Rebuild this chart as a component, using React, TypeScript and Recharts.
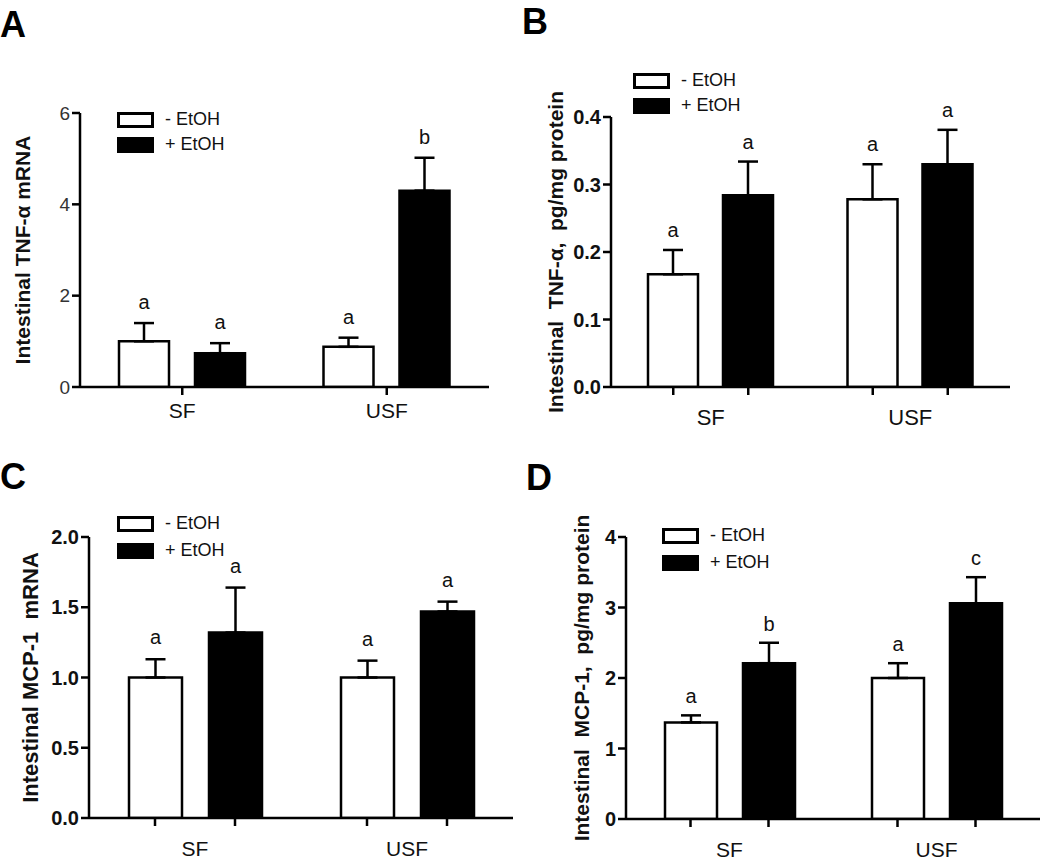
import React from 'react';
import { BarChart, Bar, XAxis, YAxis, ErrorBar, LabelList, Legend } from 'recharts';

const FONT = '"Liberation Sans", Arial, Helvetica, sans-serif';

const groups = ['SF', 'USF'];
const seriesNames = ['- EtOH', '+ EtOH'];

// A: intestinal TNF-α mRNA
const tnfMrnaMinus = [1.0, 0.88];
const tnfMrnaMinusErr = [0.4, 0.2];
const tnfMrnaPlus = [0.74, 4.3];
const tnfMrnaPlusErr = [0.22, 0.72];
const tnfMrnaMinusSig = ['a', 'a'];
const tnfMrnaPlusSig = ['a', 'b'];
const tnfMrnaTicks = [0, 2, 4, 6];

// B: intestinal TNF-α protein
const tnfProtMinus = [0.167, 0.278];
const tnfProtMinusErr = [0.036, 0.052];
const tnfProtPlus = [0.284, 0.33];
const tnfProtPlusErr = [0.05, 0.051];
const tnfProtMinusSig = ['a', 'a'];
const tnfProtPlusSig = ['a', 'a'];
const tnfProtTicks = [0, 0.1, 0.2, 0.3, 0.4];

// C: intestinal MCP-1 mRNA
const mcpMrnaMinus = [1.0, 1.0];
const mcpMrnaMinusErr = [0.13, 0.12];
const mcpMrnaPlus = [1.32, 1.47];
const mcpMrnaPlusErr = [0.32, 0.07];
const mcpMrnaMinusSig = ['a', 'a'];
const mcpMrnaPlusSig = ['a', 'a'];
const mcpMrnaTicks = [0, 0.5, 1.0, 1.5, 2.0];

// D: intestinal MCP-1 protein
const mcpProtMinus = [1.37, 2.0];
const mcpProtMinusErr = [0.1, 0.21];
const mcpProtPlus = [2.21, 3.06];
const mcpProtPlusErr = [0.29, 0.37];
const mcpProtMinusSig = ['a', 'a'];
const mcpProtPlusSig = ['b', 'c'];
const mcpProtTicks = [0, 1, 2, 3, 4];

type Row = {
  group: string;
  minus: number;
  minusErr: [number, number];
  plus: number;
  plusErr: [number, number];
  minusSig: string;
  plusSig: string;
};

const buildRows = (
  minus: number[], minusErr: number[], plus: number[], plusErr: number[],
  minusSig: string[], plusSig: string[]
): Row[] =>
  groups.map((g, i) => ({
    group: g,
    minus: minus[i],
    minusErr: [0, minusErr[i]],
    plus: plus[i],
    plusErr: [0, plusErr[i]],
    minusSig: minusSig[i],
    plusSig: plusSig[i],
  }));

const rowsA = buildRows(tnfMrnaMinus, tnfMrnaMinusErr, tnfMrnaPlus, tnfMrnaPlusErr, tnfMrnaMinusSig, tnfMrnaPlusSig);
const rowsB = buildRows(tnfProtMinus, tnfProtMinusErr, tnfProtPlus, tnfProtPlusErr, tnfProtMinusSig, tnfProtPlusSig);
const rowsC = buildRows(mcpMrnaMinus, mcpMrnaMinusErr, mcpMrnaPlus, mcpMrnaPlusErr, mcpMrnaMinusSig, mcpMrnaPlusSig);
const rowsD = buildRows(mcpProtMinus, mcpProtMinusErr, mcpProtPlus, mcpProtPlusErr, mcpProtMinusSig, mcpProtPlusSig);

// letter sitting above the error bar cap
const SigLabel = (props: any) => {
  const { rows, series, gap } = props;
  const vb = props.viewBox || props;
  const row: Row = rows[props.index];
  if (!row) return null;
  const val = series === 'minus' ? row.minus : row.plus;
  const err = series === 'minus' ? row.minusErr[1] : row.plusErr[1];
  const h = Math.abs(vb.height);
  const errPx = val ? (err / val) * h : 0;
  const top = Math.min(vb.y, vb.y + vb.height);
  return (
    <text
      x={vb.x + vb.width / 2}
      y={top - errPx - gap}
      textAnchor="middle"
      fontSize={20}
      fontFamily={FONT}
      fill="#111"
    >
      {props.value}
    </text>
  );
};

const CatTick = (props: any) => {
  const { x, y, payload, offsets, labelGap, fontSize } = props;
  return (
    <g>
      {offsets.map((d: number, i: number) => (
        <line key={i} x1={x + d} x2={x + d} y1={y} y2={y + 8} stroke="#000" strokeWidth={2.5} />
      ))}
      <text x={x} y={y + labelGap} textAnchor="middle" dominantBaseline="hanging"
        fontSize={fontSize} fontFamily={FONT} fill="#111">
        {payload.value}
      </text>
    </g>
  );
};

const YTitle = (props: any) => {
  const { viewBox, text, cx, fontSize } = props;
  const cy = viewBox.y + viewBox.height / 2;
  return (
    <text
      x={cx}
      y={cy}
      transform={`rotate(-90 ${cx} ${cy})`}
      textAnchor="middle"
      dominantBaseline="central"
      fontSize={fontSize}
      fontWeight={700}
      fontFamily={FONT}
      fill="#111"
      style={{ whiteSpace: 'pre' }}
    >
      {text}
    </text>
  );
};

const LegendBox = (props: any) => {
  const { payload, rowH } = props;
  const items = [...(payload || [])].sort(
    (a: any, b: any) => seriesNames.indexOf(a.value) - seriesNames.indexOf(b.value)
  );
  return (
    <div style={{ fontFamily: FONT, fontSize: 18, color: '#111' }}>
      {items.map((e: any) => (
        <div key={e.value} style={{ display: 'flex', alignItems: 'center', height: rowH }}>
          <span
            style={{
              display: 'inline-block',
              width: 37,
              height: 16,
              boxSizing: 'border-box',
              border: '3px solid #000',
              background: e.value === seriesNames[0] ? '#fff' : '#000',
            }}
          />
          <span style={{ marginLeft: 11, whiteSpace: 'pre' }}>{e.value}</span>
        </div>
      ))}
    </div>
  );
};

type PanelProps = {
  rows: Row[];
  letter: string;
  left: number;
  top: number;
  width: number;
  height: number;
  margin: { top: number; right: number; bottom: number; left: number };
  yWidth: number;
  domain: [number, number];
  ticks: number[];
  digits: number;
  tickBold: boolean;
  tickColor: string;
  tickSize: number;
  yTitle: string;
  yTitleX: number;
  yTitleSize: number;
  barSize: number;
  barGap: number;
  splitTicks: boolean;
  catGap: number;
  catSize: number;
  sigGap: number;
  legendLeft: number;
  legendTop: number;
  legendRow: number;
  letterLeft: number;
  letterTop: number;
};

const Panel = (p: PanelProps) => {
  const d = (p.barSize + p.barGap) / 2;
  const offsets = p.splitTicks ? [-d, d] : [0];
  return (
    <div style={{ position: 'absolute', left: p.left, top: p.top, width: p.width, height: p.height }}>
      <div
        style={{
          position: 'absolute',
          left: p.letterLeft,
          top: p.letterTop,
          fontFamily: FONT,
          fontWeight: 700,
          fontSize: 36,
          lineHeight: 1.15,
          color: '#000',
          zIndex: 2,
        }}
      >
        {p.letter}
      </div>
      <BarChart
        width={p.width}
        height={p.height}
        data={p.rows}
        margin={p.margin}
        barSize={p.barSize}
        barGap={p.barGap}
      >
        <XAxis
          dataKey="group"
          height={30}
          axisLine={{ stroke: '#000', strokeWidth: 2.5 }}
          tickLine={false}
          tickSize={0}
          tickMargin={0}
          interval={0}
          tick={<CatTick offsets={offsets} labelGap={p.catGap} fontSize={p.catSize} />}
        />
        <YAxis
          width={p.yWidth}
          domain={p.domain}
          ticks={p.ticks}
          interval={0}
          allowDataOverflow
          tickFormatter={(v: number) => v.toFixed(p.digits)}
          axisLine={{ stroke: '#000', strokeWidth: 2.5 }}
          tickLine={{ stroke: '#000', strokeWidth: 2.5 }}
          tickSize={8}
          tickMargin={2}
          tick={{
            fill: p.tickColor,
            fontSize: p.tickSize,
            fontWeight: p.tickBold ? 700 : 400,
            fontFamily: FONT,
          }}
          label={(lp: any) => (
            <YTitle viewBox={lp.viewBox} text={p.yTitle} cx={p.yTitleX} fontSize={p.yTitleSize} />
          )}
        />
        <Legend
          layout="vertical"
          verticalAlign="middle"
          align="center"
          wrapperStyle={{ left: p.legendLeft, top: p.legendTop, width: 'auto', height: 'auto' }}
          content={(lp: any) => <LegendBox payload={lp.payload} rowH={p.legendRow} />}
        />
        <Bar
          dataKey="minus"
          name={seriesNames[0]}
          fill="#fff"
          stroke="#000"
          strokeWidth={2.5}
          isAnimationActive={false}
        >
          <ErrorBar dataKey="minusErr" direction="y" width={10} stroke="#000" strokeWidth={2.5} isAnimationActive={false} />
          <LabelList
            dataKey="minusSig"
            content={(lp: any) => <SigLabel {...lp} rows={p.rows} series="minus" gap={p.sigGap} />}
          />
        </Bar>
        <Bar
          dataKey="plus"
          name={seriesNames[1]}
          fill="#000"
          stroke="#000"
          strokeWidth={2.5}
          isAnimationActive={false}
        >
          <ErrorBar dataKey="plusErr" direction="y" width={10} stroke="#000" strokeWidth={2.5} isAnimationActive={false} />
          <LabelList
            dataKey="plusSig"
            content={(lp: any) => <SigLabel {...lp} rows={p.rows} series="plus" gap={p.sigGap} />}
          />
        </Bar>
      </BarChart>
    </div>
  );
};

export default function App() {
  return (
    <div
      style={{
        position: 'absolute',
        left: 0,
        top: 0,
        width: 1050,
        height: 863,
        background: '#fff',
        fontFamily: FONT,
        overflow: 'hidden',
      }}
    >
      <Panel
        rows={rowsA}
        letter="A"
        left={0}
        top={0}
        width={520}
        height={430}
        margin={{ top: 113, right: 31, bottom: 13, left: 0 }}
        yWidth={80}
        domain={[0, 6]}
        ticks={tnfMrnaTicks}
        digits={0}
        tickBold={false}
        tickColor="#333"
        tickSize={19}
        yTitle="Intestinal TNF-α mRNA"
        yTitleX={22}
        yTitleSize={21}
        barSize={50}
        barGap={26}
        splitTicks={false}
        catGap={16}
        catSize={21}
        sigGap={14}
        legendLeft={117}
        legendTop={107}
        legendRow={25}
        letterLeft={0}
        letterTop={4}
      />
      <Panel
        rows={rowsB}
        letter="B"
        left={520}
        top={0}
        width={530}
        height={430}
        margin={{ top: 117, right: 40, bottom: 13, left: 0 }}
        yWidth={91}
        domain={[0, 0.4]}
        ticks={tnfProtTicks}
        digits={1}
        tickBold
        tickColor="#111"
        tickSize={20}
        yTitle="Intestinal  TNF-α,  pg/mg protein"
        yTitleX={35}
        yTitleSize={21}
        barSize={50}
        barGap={25}
        splitTicks
        catGap={22}
        catSize={22}
        sigGap={13}
        legendLeft={113}
        legendTop={68}
        legendRow={25}
        letterLeft={2}
        letterTop={1}
      />
      <Panel
        rows={rowsC}
        letter="C"
        left={0}
        top={430}
        width={520}
        height={433}
        margin={{ top: 107, right: 7, bottom: 15, left: 0 }}
        yWidth={89}
        domain={[0, 2]}
        ticks={mcpMrnaTicks}
        digits={1}
        tickBold
        tickColor="#111"
        tickSize={20}
        yTitle="Intestinal MCP-1  mRNA"
        yTitleX={30}
        yTitleSize={22}
        barSize={53}
        barGap={27}
        splitTicks
        catGap={23}
        catSize={21}
        sigGap={15}
        legendLeft={117}
        legendTop={80}
        legendRow={27}
        letterLeft={0}
        letterTop={26}
      />
      <Panel
        rows={rowsD}
        letter="D"
        left={520}
        top={430}
        width={530}
        height={433}
        margin={{ top: 107, right: 10, bottom: 14, left: 0 }}
        yWidth={106}
        domain={[0, 4]}
        ticks={mcpProtTicks}
        digits={0}
        tickBold
        tickColor="#111"
        tickSize={20}
        yTitle="Intestinal  MCP-1,  pg/mg protein"
        yTitleX={61}
        yTitleSize={21}
        barSize={52}
        barGap={26}
        splitTicks
        catGap={23}
        catSize={21}
        sigGap={12}
        legendLeft={142}
        legendTop={92}
        legendRow={27}
        letterLeft={6}
        letterTop={27}
      />
    </div>
  );
}
